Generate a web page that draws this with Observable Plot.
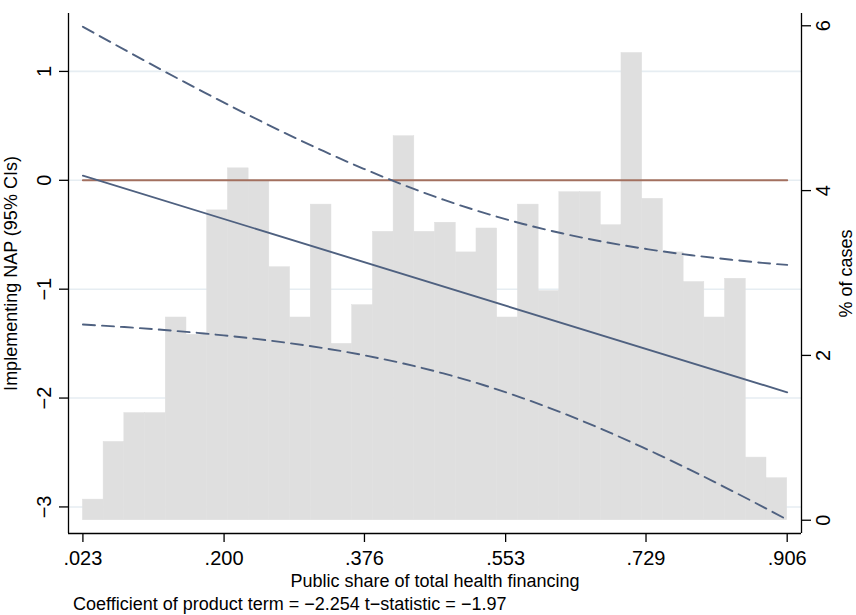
<!DOCTYPE html>
<html>
<head>
<meta charset="utf-8">
<script src="https://cdn.jsdelivr.net/npm/d3@7"></script>
<script src="https://cdn.jsdelivr.net/npm/@observablehq/plot@0.6"></script>
<style>
  html, body { margin: 0; padding: 0; background: #fff; }
  #wrap { position: relative; width: 856px; height: 615px; font-family: "Liberation Sans", Arial, Helvetica, sans-serif; }
  #wrap .layer { position: absolute; left: 0; top: 0; }
  #caption { position: absolute; left: 73px; top: 595px; font-size: 18px; line-height: 18px; color: #000; white-space: nowrap; }
</style>
</head>
<body>
<div id="wrap">
  <div id="caption"></div>
</div>
<script>
// ---------- data ----------
const xTicks = [0.023, 0.200, 0.376, 0.553, 0.729, 0.906];
const yLeftTicks = [-3, -2, -1, 0, 1];
const yRightTicks = [0, 2, 4, 6];

const histStart = 0.023;
const histEnd = 0.906;
const histPct = [0.25, 0.95, 1.30, 1.30, 2.46, 2.25, 3.76, 4.27, 4.11, 3.07, 2.46, 3.83, 2.14, 2.61, 3.50, 4.66, 3.50,
                 3.61, 3.25, 3.54, 2.46, 3.83, 2.78, 3.98, 3.98, 3.58, 5.67, 3.90, 3.25, 2.89, 2.46, 2.93, 0.76, 0.51];

// fitted (straight) marginal-effect line
const fitX    = [0.023, 0.906];
const fitVals = [0.043, -1.947];

// 95% confidence bounds
const ciX       = [0.023, 0.075, 0.125, 0.175, 0.225, 0.275, 0.325, 0.375, 0.425, 0.475,
                   0.525, 0.575, 0.625, 0.675, 0.725, 0.775, 0.825, 0.875, 0.906];
const upperVals = [1.410, 1.200, 1.001, 0.808, 0.620, 0.439, 0.267, 0.106, -0.043, -0.178,
                   -0.297, -0.401, -0.489, -0.564, -0.626, -0.678, -0.721, -0.758, -0.777];
const lowerVals = [-1.324, -1.348, -1.375, -1.407, -1.444, -1.489, -1.542, -1.606, -1.683, -1.774,
                   -1.880, -2.002, -2.139, -2.290, -2.453, -2.626, -2.808, -2.997, -3.117];
const zeroVals  = [0, 0];
const zeroX     = [0.023, 0.906];

const xLabel = "Public share of total health financing";
const yLeftLabel = "Implementing NAP (95% CIs)";
const yRightLabel = "% of cases";
const captionText = "Coefficient of product term = \u22122.254 t\u2212statistic = \u22121.97";

// ---------- layout / scales ----------
const W = 856, H = 590;
const margins = { marginTop: 13, marginBottom: 57, marginLeft: 68, marginRight: 55 };
const xDomain = [0.00494, 0.92394];
const yLeftDomain = [-3.244, 1.532];
const yRightDomain = [-0.161, 6.149];
const FONT = "'Liberation Sans', Arial, Helvetica, sans-serif";
const baseStyle = { background: "transparent", overflow: "visible", fontFamily: FONT, fontSize: "20px", color: "#000" };

const navy = "#4f6180";
const red = "#a3705f";
const barFill = "#dfdfdf";
const gridColor = "#e6edf2";

const minusFmt = d => (d < 0 ? "\u2212" : "") + Math.abs(d);

const binW = (histEnd - histStart) / histPct.length;
const bins = histPct.map((p, i) => ({ x1: histStart + i * binW, x2: histStart + (i + 1) * binW, pct: p }));
const ci = ciX.map((x, i) => ({ x, hi: upperVals[i], lo: lowerVals[i] }));
const fit = fitX.map((x, i) => ({ x, y: fitVals[i] }));
const zero = zeroX.map((x, i) => ({ x, y: zeroVals[i] }));

// Layer A: grid, axes, titles (left scale)
const layerA = Plot.plot({
  width: W, height: H, ...margins, style: { ...baseStyle, background: "#fff" },
  x: { domain: xDomain, axis: null },
  y: { domain: yLeftDomain, axis: null },
  marks: [
    Plot.gridY(yLeftTicks, { stroke: gridColor, strokeOpacity: 1, strokeWidth: 1.6 }),
    Plot.ruleX([xDomain[0], xDomain[1]], { stroke: "#000", strokeWidth: 1.3 }),
    Plot.ruleY([yLeftDomain[0]], { stroke: "#000", strokeWidth: 1.3 }),
    Plot.axisY({ anchor: "left", ticks: yLeftTicks, tickSize: 9, tickPadding: 8.5, tickRotate: -90,
                 tickFormat: minusFmt, fontSize: 20, label: null, strokeWidth: 1.3, stroke: "#000", fill: "#000" }),
    Plot.axisX({ anchor: "bottom", ticks: xTicks, tickSize: 9, tickPadding: 8,
                 tickFormat: d => d3.format(".3f")(d).slice(1), fontSize: 20, label: null, strokeWidth: 1.3, stroke: "#000", fill: "#000" }),
    Plot.text([yLeftLabel], { frameAnchor: "left", textAnchor: "middle", lineAnchor: "middle", rotate: -90, dx: -57, fontSize: 18, fill: "#000" }),
    Plot.text([xLabel], { frameAnchor: "bottom", textAnchor: "middle", dy: 53.7, lineAnchor: "bottom", fontSize: 18, fill: "#000" }),
    Plot.text([yRightLabel], { frameAnchor: "right", textAnchor: "middle", lineAnchor: "middle", rotate: -90, dx: 45, fontSize: 18, fill: "#000" })
  ]
});

// Layer B: histogram (right scale)
const layerB = Plot.plot({
  width: W, height: H, ...margins, style: baseStyle,
  x: { domain: xDomain, axis: null },
  y: { domain: yRightDomain, axis: null },
  marks: [
    Plot.rectY(bins, { x1: "x1", x2: "x2", y: "pct", fill: barFill, stroke: barFill, strokeWidth: 0.5, insetLeft: 0, insetRight: 0 }),
    Plot.axisY({ anchor: "right", ticks: yRightTicks, tickSize: 9, tickPadding: 5, tickRotate: -90, lineAnchor: "top",
                 tickFormat: d => String(d), fontSize: 20, label: null, strokeWidth: 1.3, stroke: "#000", fill: "#000" })
  ]
});

// Layer C: fitted line, CIs, zero line (left scale)
const layerC = Plot.plot({
  width: W, height: H, ...margins, style: baseStyle,
  x: { domain: xDomain, axis: null },
  y: { domain: yLeftDomain, axis: null },
  marks: [
    Plot.line(zero, { x: "x", y: "y", stroke: red, strokeWidth: 2 }),
    Plot.line(ci, { x: "x", y: "hi", stroke: navy, strokeWidth: 1.9, strokeDasharray: "12,7", curve: "natural" }),
    Plot.line(ci, { x: "x", y: "lo", stroke: navy, strokeWidth: 1.9, strokeDasharray: "12,7", curve: "natural" }),
    Plot.line(fit, { x: "x", y: "y", stroke: navy, strokeWidth: 1.9 })
  ]
});

const wrap = document.getElementById("wrap");
[layerA, layerB, layerC].forEach(el => { el.classList.add("layer"); wrap.insertBefore(el, document.getElementById("caption")); });
document.getElementById("caption").textContent = captionText;
</script>
</body>
</html>
